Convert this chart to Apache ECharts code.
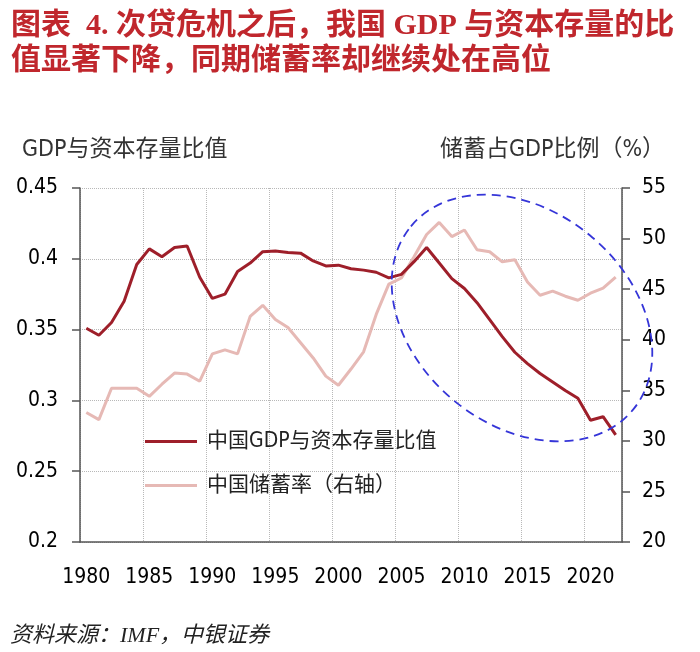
<!DOCTYPE html>
<html><head><meta charset="utf-8">
<script src="https://cdn.jsdelivr.net/npm/echarts@6/dist/echarts.min.js"></script>
<style>html,body{margin:0;padding:0;background:#fff}#c{width:700px;height:652px}</style>
</head><body><div id="c"></div>
<script>
const years = ['1980','1981','1982','1983','1984','1985','1986','1987','1988','1989',
  '1990','1991','1992','1993','1994','1995','1996','1997','1998','1999',
  '2000','2001','2002','2003','2004','2005','2006','2007','2008','2009',
  '2010','2011','2012','2013','2014','2015','2016','2017','2018','2019',
  '2020','2021','2022'];
const gdpCapitalRatio = [0.351,0.346,0.355,0.370,0.396,0.407,0.4015,0.408,0.409,0.387,
  0.372,0.375,0.391,0.397,0.405,0.4055,0.4045,0.404,0.3985,0.395,
  0.3955,0.393,0.392,0.3905,0.3865,0.389,0.398,0.408,0.397,0.386,
  0.379,0.369,0.357,0.345,0.334,0.326,0.319,0.313,0.307,0.3015,
  0.286,0.2885,0.2756];
const savingRate = [32.8,32.1,35.2,35.2,35.2,34.4,35.6,36.7,36.6,35.9,
  38.6,39.0,38.6,42.3,43.4,42.0,41.2,39.7,38.2,36.4,
  35.5,37.1,38.8,42.5,45.5,46.1,48.2,50.4,51.6,50.2,
  50.85,48.9,48.7,47.7,47.9,45.7,44.4,44.8,44.3,43.9,
  44.6,45.1,46.2];
const seriesNames = ['中国GDP与资本存量比值','中国储蓄率（右轴）'];
const leftAxisName = 'GDP与资本存量比值';
const rightAxisName = '储蓄占GDP比例（%）';
const titleText = '图表  4. 次贷危机之后，我国 GDP 与资本存量的比\n值显著下降，同期储蓄率却继续处在高位';
const sourceText = '资料来源：IMF，中银证券';

const tickFont = "'DejaVu Sans Condensed','DejaVu Sans','Noto Sans'";
const cjkFont = "'DejaVu Sans Condensed','DejaVu Sans','Noto Sans CJK SC'";
const axisColor = '#555';
const gridLine = {show:true, lineStyle:{type:'dotted', color:'#b8b8b8', width:1}};

const chart = echarts.init(document.getElementById('c'), null, {renderer:'canvas'});
chart.setOption({
  animation:false,
  backgroundColor:'#fff',
  title:{
    text:titleText, left:11, top:9, padding:0,
    textStyle:{fontSize:30, fontWeight:'bold', color:'#c0272d', lineHeight:35,
      fontFamily:"'Liberation Serif','Noto Sans CJK SC'"}
  },
  grid:{left:80, right:78, top:188, bottom:110, containLabel:false},
  legend:{
    orient:'vertical', left:140, top:426, itemWidth:52, itemHeight:3, itemGap:23,
    icon:'rect', data:seriesNames,
    textStyle:{fontSize:21, color:'#222', fontFamily:cjkFont, padding:[0,0,0,5]}
  },
  xAxis:{
    type:'category', data:years, boundaryGap:true,
    axisLine:{lineStyle:{color:axisColor, width:1.5}},
    axisTick:{interval:4, length:7, lineStyle:{color:axisColor, width:1.5}},
    axisLabel:{interval:4, margin:25, fontSize:21, color:'#000', fontFamily:tickFont},
    splitLine:Object.assign({interval:4}, gridLine)
  },
  yAxis:[{
    type:'value', min:0.2, max:0.45, interval:0.05, position:'left',
    axisLine:{show:true, lineStyle:{color:axisColor, width:1.5}},
    axisTick:{show:true, length:8, lineStyle:{color:axisColor, width:1.5}},
    axisLabel:{margin:22, fontSize:21, color:'#000', fontFamily:tickFont},
    splitLine:gridLine
  },{
    type:'value', min:20, max:55, interval:5, position:'right',
    axisLine:{show:true, lineStyle:{color:axisColor, width:1.5}},
    axisTick:{show:true, length:8, lineStyle:{color:axisColor, width:1.5}},
    axisLabel:{margin:20, fontSize:21, color:'#000', fontFamily:tickFont},
    splitLine:{show:false}
  }],
  series:[{
    name:seriesNames[0], type:'line', data:gdpCapitalRatio, yAxisIndex:0,
    symbol:'none', z:3, color:'#9e1f2a',
    lineStyle:{width:3, color:'#9e1f2a'}
  },{
    name:seriesNames[1], type:'line', data:savingRate, yAxisIndex:1,
    symbol:'none', z:2, color:'#e6b9b5',
    lineStyle:{width:3, color:'#e6b9b5'}
  }],
  graphic:[
    {type:'text', left:22, top:139, style:{text:leftAxisName, fontSize:23, fill:'#333', fontFamily:cjkFont}},
    {type:'text', left:440, top:139, style:{text:rightAxisName, fontSize:23, fill:'#333', fontFamily:cjkFont}},
    {type:'text', left:10, top:625, style:{text:sourceText, fontSize:22, fontStyle:'italic', fill:'#222',
      fontFamily:"'Liberation Serif','Noto Sans CJK SC'"}},
    {type:'ellipse', x:522, y:318, rotation:-0.69, silent:true, z:10,
      shape:{cx:0, cy:0, rx:144, ry:107},
      style:{fill:null, stroke:'#3535d8', lineWidth:1.8, lineDash:[9,6]}}
  ]
});
</script></body></html>
